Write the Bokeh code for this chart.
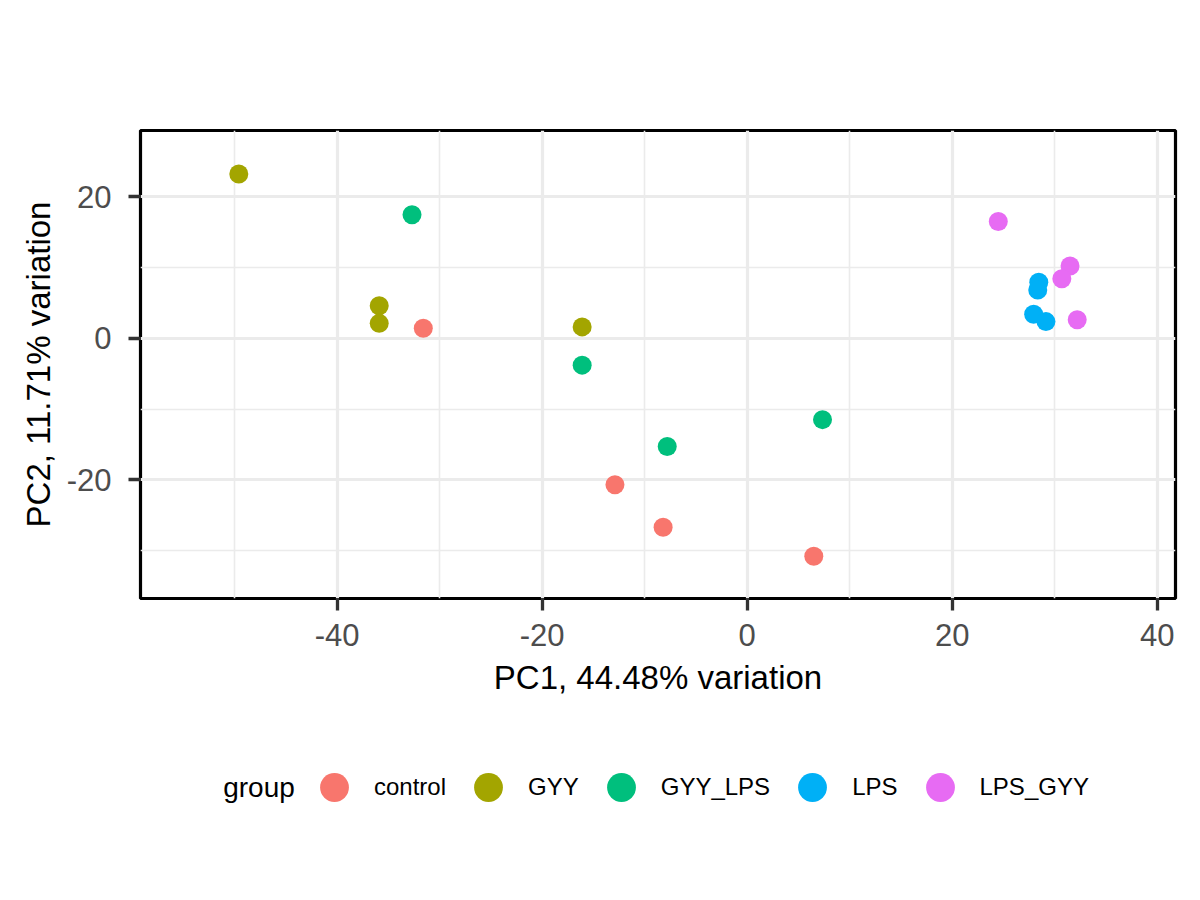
from bokeh.plotting import figure
from bokeh.layouts import column
from bokeh.models import (Range1d, FixedTicker, Legend, LegendItem, ColumnDataSource,
                          CustomJSTickFormatter, Label)
from bokeh.embed import file_html
from bokeh.resources import INLINE

groups = ["control", "GYY", "GYY_LPS", "LPS", "LPS_GYY"]
colors = ["#F8766D", "#A3A500", "#00BF7D", "#00B0F6", "#E76BF3"]

control_x = [-31.6, -12.9, -8.2, 6.5]
control_y = [1.4, -20.7, -26.7, -30.8]
gyy_x = [-49.6, -35.9, -35.9, -16.1]
gyy_y = [23.2, 4.6, 2.1, 1.6]
gyy_lps_x = [-32.7, -16.1, -7.8, 7.35]
gyy_lps_y = [17.45, -3.8, -15.3, -11.5]
lps_x = [28.45, 28.35, 27.95, 29.15]
lps_y = [7.9, 6.8, 3.4, 2.35]
lps_gyy_x = [24.5, 31.5, 30.7, 32.2]
lps_gyy_y = [16.5, 10.2, 8.4, 2.6]

xs = [control_x, gyy_x, gyy_lps_x, lps_x, lps_gyy_x]
ys = [control_y, gyy_y, gyy_lps_y, lps_y, lps_gyy_y]

x_ticks = [-40, -20, 0, 20, 40]
x_minor = [-50, -30, -10, 10, 30]
y_ticks = [-20, 0, 20]
y_minor = [-30, -10, 10]

x_title = "PC1, 44.48% variation"
y_title = "PC2, 11.71% variation"
legend_title = "group"

FONT = "Liberation Sans"

# ---------------- main scatter panel ----------------
p = figure(width=1200, height=720, output_backend="svg", toolbar_location=None,
           x_range=Range1d(-59.19, 41.79), y_range=Range1d(-36.76, 29.34),
           min_border_left=140, min_border_right=25, min_border_top=130, min_border_bottom=122)

p.background_fill_color = "white"
p.border_fill_color = "white"
p.outline_line_color = "black"
p.outline_line_width = 3.2

p.xaxis.ticker = FixedTicker(ticks=x_ticks, minor_ticks=x_minor)
p.yaxis.ticker = FixedTicker(ticks=y_ticks, minor_ticks=y_minor)

fmt = CustomJSTickFormatter(code="return tick.toString();")
for ax in (p.xaxis[0], p.yaxis[0]):
    ax.formatter = fmt
    ax.axis_line_color = None
    ax.major_tick_in = 0
    ax.major_tick_out = 12
    ax.major_tick_line_color = "#333333"
    ax.major_tick_line_width = 3.3
    ax.minor_tick_line_color = None
    ax.major_label_text_font = FONT
    ax.major_label_text_font_size = "31px"
    ax.major_label_text_color = "#4D4D4D"
    ax.axis_label_text_font = FONT
    ax.axis_label_text_font_size = "33px"
    ax.axis_label_text_font_style = "normal"
    ax.axis_label_text_color = "black"

p.xaxis.axis_label = x_title
p.yaxis.axis_label = y_title
p.xaxis.major_label_standoff = 13
p.yaxis.major_label_standoff = 17
p.xaxis.axis_label_standoff = 10
p.yaxis.axis_label_standoff = 7

p.xgrid.grid_line_color = "#EBEBEB"
p.ygrid.grid_line_color = "#EBEBEB"
p.xgrid.grid_line_width = 3.2
p.ygrid.grid_line_width = 3.2
p.xgrid.minor_grid_line_color = "#EBEBEB"
p.ygrid.minor_grid_line_color = "#EBEBEB"
p.xgrid.minor_grid_line_width = 1.6
p.ygrid.minor_grid_line_width = 1.6

sources = []
for g, c, gx, gy in zip(groups, colors, xs, ys):
    src = ColumnDataSource(dict(x=gx, y=gy))
    sources.append(src)
    p.scatter("x", "y", source=src, size=19, fill_color=c, line_color=None)

# ---------------- legend strip below (frame aligned with the main panel) ----------------
lg = figure(width=1200, height=180, output_backend="svg", toolbar_location=None,
            x_range=Range1d(1000, 1001), y_range=Range1d(1000, 1001),
            min_border_left=140, min_border_right=25, min_border_top=0, min_border_bottom=0)
lg.axis.visible = False
lg.grid.visible = False
lg.outline_line_color = None
lg.background_fill_color = "white"
lg.border_fill_color = "white"

items = []
for g, c, src in zip(groups, colors, sources):
    r = lg.scatter("x", "y", source=src, size=19, fill_color=c, line_color=None)
    items.append(LegendItem(label=g, renderers=[r]))

legend = Legend(items=items, orientation="horizontal", location=(158, 77),
                glyph_width=72, glyph_height=72, label_standoff=4, spacing=6,
                padding=0, margin=0, border_line_color=None, background_fill_alpha=0,
                label_text_font=FONT, label_text_font_size="24px", label_text_color="black")
lg.add_layout(legend)

lg.add_layout(Label(x=82.7, y=113, x_units="screen", y_units="screen", text=legend_title,
                    text_font=FONT, text_font_size="28px", text_color="black",
                    text_baseline="middle", text_align="left"))

layout = column(p, lg, spacing=0)
open("out.html", "w").write(file_html(layout, INLINE))
